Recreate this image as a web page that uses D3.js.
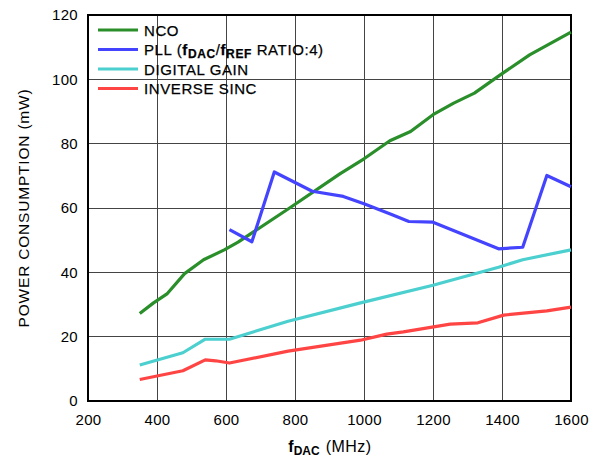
<!DOCTYPE html>
<html>
<head>
<meta charset="utf-8">
<script src="https://cdn.jsdelivr.net/npm/d3@7"></script>
<style>
  html, body { margin: 0; padding: 0; background: #fff; }
  svg { display: block; font-family: "Liberation Sans", Arial, sans-serif; }
</style>
</head>
<body>
<svg id="chart" width="597" height="458"></svg>
<script>
// Power consumption of the DAC blocks versus update rate
const xTicks = [200, 400, 600, 800, 1000, 1200, 1400, 1600];
const yTicks = [0, 20, 40, 60, 80, 100, 120];

const ncoF   = [350, 390, 430, 480, 535, 595, 635, 780, 930, 1000, 1075, 1135, 1200, 1260, 1320, 1395, 1480, 1600];
const ncoP   = [27.2, 30.5, 33.4, 39.6, 43.9, 47.0, 49.4, 59.7, 70.6, 75.3, 80.9, 83.8, 89.0, 92.6, 95.7, 101.4, 107.6, 114.7];

const pllF   = [610, 675, 740, 850, 940, 1000, 1080, 1130, 1200, 1390, 1460, 1530, 1600];
const pllP   = [53.3, 49.5, 71.2, 65.2, 63.6, 61.3, 58.0, 55.8, 55.6, 47.3, 47.8, 70.1, 66.6];

const gainF  = [350, 475, 540, 610, 780, 990, 1200, 1390, 1460, 1600];
const gainP  = [11.2, 15.0, 19.2, 19.2, 24.8, 30.5, 36.0, 41.6, 43.9, 47.0];

const sincF  = [350, 475, 540, 570, 610, 780, 990, 1066, 1114, 1250, 1330, 1405, 1470, 1530, 1600];
const sincP  = [6.7, 9.4, 12.8, 12.5, 11.8, 15.5, 18.9, 20.8, 21.5, 23.9, 24.3, 26.7, 27.4, 28.0, 29.2];

const series = [
  { name: "NCO",          f: ncoF,  p: ncoP,  color: "#2a8f2a" },
  { name: "PLL",          f: pllF,  p: pllP,  color: "#4444ff" },
  { name: "DIGITAL GAIN", f: gainF, p: gainP, color: "#4ccfcf" },
  { name: "INVERSE SINC", f: sincF, p: sincP, color: "#ff4444" }
];

const svg = d3.select("#chart");
const m = { left: 88, right: 571, top: 15, bottom: 401 };

const x = d3.scaleLinear().domain([200, 1600]).range([m.left, m.right]);
const y = d3.scaleLinear().domain([0, 120]).range([m.bottom, m.top]);

// grid
const grid = svg.append("g");
grid.selectAll("line.v").data(xTicks.slice(1, -1)).enter().append("line")
  .attr("x1", d => x(d)).attr("x2", d => x(d))
  .attr("y1", m.top).attr("y2", m.bottom)
  .attr("stroke", "#444").attr("stroke-width", 1).attr("shape-rendering", "crispEdges");
grid.selectAll("line.h").data(yTicks.slice(1, -1)).enter().append("line")
  .attr("x1", m.left).attr("x2", m.right)
  .attr("y1", d => y(d)).attr("y2", d => y(d))
  .attr("stroke", "#444").attr("stroke-width", 1).attr("shape-rendering", "crispEdges");

// axes (labels only; frame drawn separately)
const xAxis = svg.append("g").attr("transform", `translate(0,${m.bottom})`)
  .call(d3.axisBottom(x).tickValues(xTicks).tickFormat(d3.format("d")).tickSize(0).tickPadding(13));
const yAxis = svg.append("g").attr("transform", `translate(${m.left},0)`)
  .call(d3.axisLeft(y).tickValues(yTicks).tickFormat(d3.format("d")).tickSize(0).tickPadding(10));
[xAxis, yAxis].forEach(a => {
  a.select(".domain").remove();
  a.selectAll("text").attr("font-family", "Liberation Sans, Arial, sans-serif")
    .attr("font-size", 15).attr("fill", "#000").attr("letter-spacing", "0.3px");
});

// frame
svg.append("rect")
  .attr("x", m.left).attr("y", m.top)
  .attr("width", m.right - m.left).attr("height", m.bottom - m.top)
  .attr("fill", "none").attr("stroke", "#000").attr("stroke-width", 2);

// series lines
const line = d3.line().x(d => x(d[0])).y(d => y(d[1]));
series.forEach(s => {
  svg.append("path")
    .datum(s.f.map((f, i) => [f, s.p[i]]))
    .attr("d", line)
    .attr("fill", "none")
    .attr("stroke", s.color)
    .attr("stroke-width", 3.2)
    .attr("stroke-linejoin", "round")
    .attr("stroke-linecap", "butt");
});

// legend
const legend = svg.append("g");
const rowY = [30, 49.5, 69, 88.5];
series.forEach((s, i) => {
  legend.append("line")
    .attr("x1", 98).attr("x2", 138)
    .attr("y1", rowY[i]).attr("y2", rowY[i])
    .attr("stroke", s.color).attr("stroke-width", 3.2);
  const t = legend.append("text")
    .attr("x", 144).attr("y", rowY[i] + 5.5)
    .attr("font-size", 15).attr("letter-spacing", "0.6px").attr("fill", "#000")
    .attr("stroke", "#000").attr("stroke-width", 0.25);
  if (s.name === "PLL") {
    t.append("tspan").text("PLL (");
    t.append("tspan").attr("font-weight", "bold").text("f");
    t.append("tspan").attr("font-weight", "bold").attr("font-size", 12).attr("dy", 3).text("DAC");
    t.append("tspan").attr("dy", -3).text("/");
    t.append("tspan").attr("font-weight", "bold").text("f");
    t.append("tspan").attr("font-weight", "bold").attr("font-size", 12).attr("dy", 3).text("REF");
    t.append("tspan").attr("dy", -3).text(" RATIO:4)");
  } else {
    t.text(s.name);
  }
});

// axis titles
const xt = svg.append("text").attr("x", 330).attr("y", 452)
  .attr("text-anchor", "middle").attr("font-size", 16).attr("fill", "#000");
xt.append("tspan").attr("font-weight", "bold").text("f");
xt.append("tspan").attr("font-weight", "bold").attr("font-size", 12).attr("dy", 3).text("DAC");
xt.append("tspan").attr("dy", -3).attr("dx", 6).attr("letter-spacing", "0.5px").text("(MHz)");

svg.append("text")
  .attr("transform", `translate(29,${(m.top + m.bottom) / 2}) rotate(-90)`)
  .attr("text-anchor", "middle").attr("font-size", 15.5)
  .attr("letter-spacing", "0.8px").attr("fill", "#000")
  .text("POWER CONSUMPTION (mW)");
</script>
</body>
</html>
